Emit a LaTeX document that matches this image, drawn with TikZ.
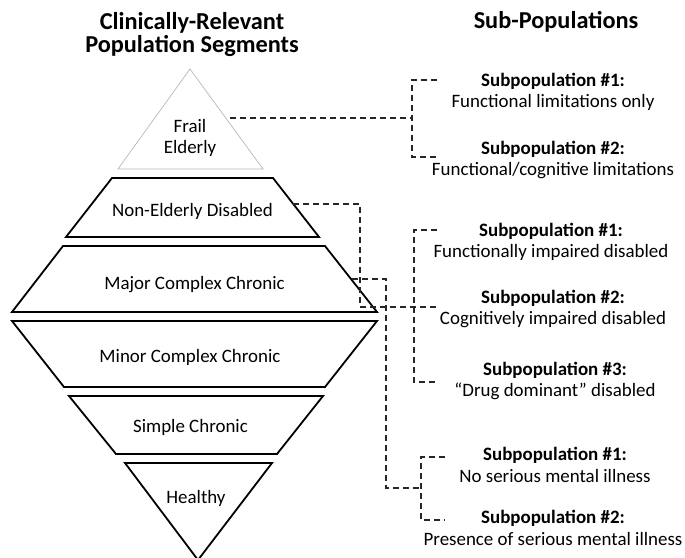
\documentclass[tikz,border=0pt]{standalone}
\usepackage{fontspec}
\setmainfont{Carlito}
\usetikzlibrary{positioning}

\tikzset{
  seg/.style={draw=black, line width=1.8bp, line join=miter},
  apex/.style={draw=black!28, line width=0.7bp},
  segtext/.style={font=\fontsize{19}{21.5}\selectfont, align=center, inner sep=0pt},
  subtext/.style={font=\fontsize{19}{21.5}\selectfont, align=center, inner sep=0pt},
  heading/.style={font=\fontsize{24.4}{23.3}\selectfont\bfseries, align=center, inner sep=0pt},
  link/.style={draw=black!85, line width=1.1bp, dash pattern=on 6bp off 4bp},
}

\begin{document}
\begin{tikzpicture}[x=1bp,y=-1bp]
\useasboundingbox (0,0) rectangle (685,558);

% headings
\node[heading] (segtitle) at (192,34.7) {Clinically-Relevant\\Population Segments};
\node[heading, anchor=base] (subtitle) at (556,29) {Sub-Populations};

% population segments, top to bottom
\draw[apex] (190,69) -- (263,169) -- (118,169) -- cycle;
\draw[seg] (112,178) -- (273,178) -- (319,237) -- (66,237) -- cycle;
\draw[seg] (63,246) -- (325,246) -- (377,312) -- (12,312) -- cycle;
\draw[seg] (12,321) -- (377,321) -- (325,387) -- (64,387) -- cycle;
\draw[seg] (69,396) -- (323,396) -- (277,454) -- (116,454) -- cycle;
\draw[seg] (125,463) -- (272,463) -- (198,560) -- cycle;

\node[segtext] (frail) at (190,138) {Frail\\Elderly};
\node[segtext, anchor=base] (nonold) at (192.5,217) {Non-Elderly Disabled};
\node[segtext, anchor=base] (major) at (194.5,289) {Major Complex Chronic};
\node[segtext, anchor=base] (minor) at (190,362) {Minor Complex Chronic};
\node[segtext, anchor=base] (simple) at (190.5,432) {Simple Chronic};
\node[segtext, anchor=base] (healthy) at (196,503) {Healthy};

% sub-populations
\node[subtext] (fe1) at (553,92) {\textbf{Subpopulation \#1:}\\Functional limitations only};
\node[subtext] (fe2) at (553,160) {\textbf{Subpopulation \#2:}\\Functional/cognitive limitations};
\node[subtext] (nd1) at (551,242) {\textbf{Subpopulation \#1:}\\Functionally impaired disabled};
\node[subtext] (nd2) at (553,309) {\textbf{Subpopulation \#2:}\\Cognitively impaired disabled};
\node[subtext] (nd3) at (555,381) {\textbf{Subpopulation \#3:}\\“Drug dominant” disabled};
\node[subtext] (mc1) at (555,465) {\textbf{Subpopulation \#1:}\\No serious mental illness};
\node[subtext] (mc2) at (553,528) {\textbf{Subpopulation \#2:}\\Presence of serious mental illness};

% connectors
\coordinate (frail-e) at (230,118);
\coordinate (fe-join) at (412,118);
\coordinate (fe-top) at (437,80);
\coordinate (fe-bot) at (437,157);
\draw[link] (frail-e) -- (fe-join);
\draw[link] (fe-top) -- ++(-25,0) |- (fe-bot);

\coordinate (nonold-e) at (293,204);
\coordinate (nd-mid) at (437,307);
\coordinate (nd-top) at (437,230);
\coordinate (nd-bot) at (437,382);
\draw[link] (nonold-e) -- ++(67,0) |- (nd-mid);
\draw[link] (nd-top) -- ++(-23,0) |- (nd-bot);

\coordinate (major-e) at (352,279);
\coordinate (mc-join) at (421,488);
\coordinate (mc-top) at (445,457);
\coordinate (mc-bot) at (445,520);
\draw[link] (major-e) -- ++(34,0) |- (mc-join);
\draw[link] (mc-top) -- ++(-24,0) |- (mc-bot);
\end{tikzpicture}
\end{document}
